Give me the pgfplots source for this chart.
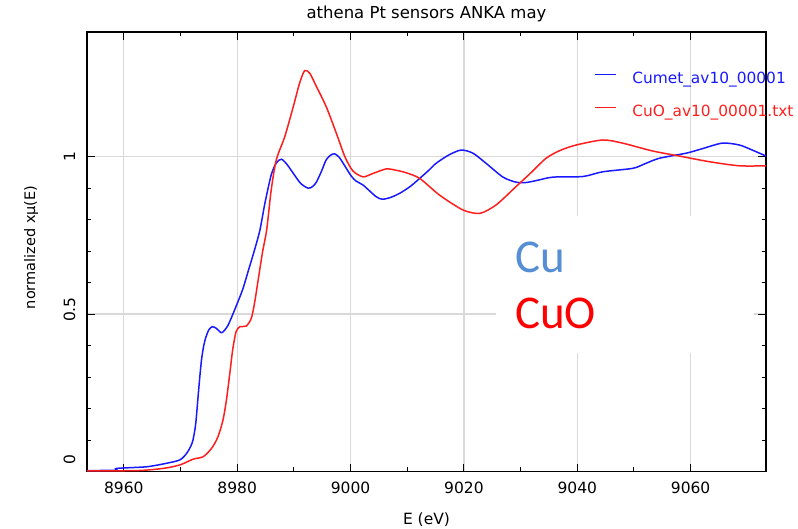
\documentclass[border=0pt]{standalone}
\usepackage{pgfplots}
\pgfplotsset{compat=1.18}
\usepackage{fontspec}
\setmainfont{DejaVu Sans}
\newfontfamily\calibri{Carlito}
\definecolor{gridgray}{RGB}{217,217,217}
\definecolor{cublue}{RGB}{85,142,213}
\definecolor{lineblue}{RGB}{25,25,255}
\definecolor{linered}{RGB}{255,30,30}
\begin{document}
\begin{tikzpicture}[x=1pt,y=1pt]
\fill[white] (0,0) rectangle (798,528);
\useasboundingbox (0,0) rectangle (798,528);
\clip (0,0) rectangle (798,528);
\begin{axis}[
  at={(87pt,56.5pt)}, anchor=south west,
  width=679pt, height=439.5pt, scale only axis,
  xmin=8953.5, xmax=9073.3, ymin=0, ymax=1.396,
  xtick={8960,8980,...,9060}, minor x tick num=1,
  ytick={0,0.5,1}, yticklabels={{\hspace*{24pt}0},{\hspace*{9pt}0.5},{1}},
  minor y tick num=4,
  tick align=inside,
  major tick length=8pt, minor tick length=4.5pt,
  tick style={black, line width=1pt},
  axis line style={black, line width=1.5pt},
  grid=major, major grid style={gridgray, line width=1.2pt},
  /pgf/number format/assume math mode=true,
  /pgf/number format/1000 sep={},
  tick label style={font=\fontsize{15.5}{18}\selectfont},
  xticklabel style={anchor=base, yshift=-21.8pt},
  yticklabel style={rotate=90, anchor=base},
  yticklabel shift=12pt,
  title={athena Pt sensors ANKA may},
  title style={at={(axis description cs:0.5,1.016)}, anchor=base, font=\fontsize{16.5}{19}\selectfont},
  xlabel={E (eV)},
  xlabel style={at={(axis description cs:0.5,-0.12)}, anchor=base, font=\fontsize{15.5}{18}\selectfont},
  ylabel={normalized xµ(E)},
  ylabel style={at={(axis description cs:-0.0824,0.51)}, anchor=center, font=\fontsize{14.5}{17}\selectfont},
  legend style={at={(axis cs:9043,1.268)}, anchor=north west, draw=none, fill=none,
    inner sep=0pt, outer sep=0pt, font=\fontsize{15.4}{18}\selectfont,
    row sep=18.4pt, column sep=15.5pt, cells={anchor=base west},
    nodes={inner sep=0pt, text height=11pt, text depth=4pt}},
  legend image code/.code={\draw[#1, line width=1.5pt] (0pt,9pt) -- (21pt,9pt);},
]
\fill[white] (axis cs:9025.7,0.376) rectangle (axis cs:9071.2,0.812);
\addplot[lineblue, line width=1.5pt, smooth, tension=0.45] coordinates {
(8953.5,0.003) (8958.5,0.004) (8958.8,0.010) (8964,0.015) (8967.5,0.026)
(8969.9,0.037) (8971.1,0.058) (8971.8,0.08) (8972.2,0.10) (8972.6,0.14)
(8972.8,0.174) (8973.3,0.28) (8973.7,0.354) (8974.1,0.40) (8974.5,0.428)
(8975,0.45) (8975.6,0.46) (8976.3,0.455) (8977,0.443) (8977.4,0.442)
(8978.4,0.465) (8979.9,0.529) (8981,0.58) (8982,0.64) (8983,0.70)
(8984,0.766) (8984.9,0.853) (8986.0,0.942) (8986.9,0.98) (8987.8,0.992)
(8988.8,0.975) (8989.9,0.947) (8991.2,0.915) (8992.5,0.90) (8993.3,0.905)
(8994,0.92) (8994.9,0.955) (8995.7,0.99) (8996.5,1.005) (8997.2,1.009)
(8998,0.998) (8998.7,0.979) (9000.1,0.939) (9001,0.922) (9002.2,0.91)
(9004.5,0.873) (9005.6,0.865) (9007,0.87) (9008.7,0.884) (9010.5,0.905)
(9012.2,0.931) (9013.7,0.955) (9015.1,0.979) (9017.3,1.005) (9019.5,1.021)
(9021.6,1.011) (9023.9,0.979) (9026.9,0.935) (9029.2,0.919) (9031,0.918)
(9033,0.925) (9035.7,0.935) (9041,0.937) (9044.5,0.952) (9049.8,0.963)
(9052,0.978) (9054.5,0.995) (9059.2,1.011) (9062,1.025) (9065.6,1.043)
(9068.6,1.037) (9071,1.02) (9073.3,1.002)
};
\addlegendentry{\textcolor{lineblue}{Cumet\_av10\_00001}}
\addplot[linered, line width=1.5pt, smooth, tension=0.45] coordinates {
(8953.5,0.002) (8962.5,0.003) (8967,0.010) (8969.9,0.021) (8972.2,0.039)
(8974,0.047) (8975.5,0.074) (8976.6,0.11) (8977.5,0.164) (8978.1,0.227)
(8978.7,0.312) (8979.2,0.386) (8979.8,0.444) (8980.5,0.46) (8981.6,0.462)
(8982.5,0.487) (8983.1,0.539) (8983.8,0.62) (8984.5,0.70) (8985.2,0.767)
(8986.0,0.894) (8986.9,0.99) (8988.4,1.064) (8989.9,1.159) (8991,1.233)
(8991.9,1.273) (8992.8,1.265) (8994,1.222) (8995.7,1.159) (8997.5,1.074)
(8999,1.0) (9000.4,0.955) (9002.2,0.936) (9004,0.947) (9006.3,0.961)
(9008,0.957) (9009.8,0.949) (9012.2,0.931) (9015.7,0.878) (9019.8,0.831)
(9022.8,0.82) (9025.7,0.847) (9029.2,0.905) (9031.6,0.945) (9034.5,0.995)
(9037,1.02) (9039.8,1.037) (9044.5,1.053) (9048,1.043) (9053.3,1.018) (9058,1.002)
(9063.3,0.984) (9068.6,0.971) (9073.3,0.971)
};
\addlegendentry{\textcolor{linered}{CuO\_av10\_00001.txt}}
\node[anchor=base west, inner sep=0pt, text=cublue, font=\calibri\fontsize{47}{50}\selectfont] at (axis cs:9029.0,0.6306) {Cu};
\node[anchor=base west, inner sep=0pt, text=red, font=\calibri\fontsize{47}{50}\selectfont] at (axis cs:9029.0,0.4527) {CuO};
\end{axis}
\end{tikzpicture}
\end{document}
